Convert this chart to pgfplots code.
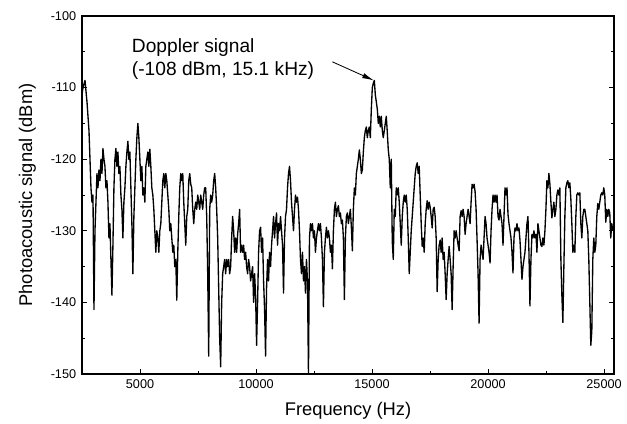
\documentclass[border=0pt]{standalone}
\usepackage{fontspec}
\setmainfont{Liberation Sans}
\usepackage{pgfplots}
\pgfplotsset{compat=1.18}
\usepackage{pgfplotstable}
\usetikzlibrary{arrows.meta}

% photoacoustic spectrum
\pgfplotstableread{
f v
2500 -111
2543 -110
2586 -109.5
2629 -109
2672 -110.5
2715 -112
2758 -114
2801 -116
2844 -120
2887 -124
2930 -126
2973 -125
3016 -141
3059 -130
3102 -126
3145 -122
3188 -124
3231 -121.5
3274 -123
3317 -120
3360 -122
3403 -118.5
3446 -120
3489 -121
3532 -124
3575 -123
3618 -126
3661 -131
3704 -129
3747 -134
3790 -139
3833 -132
3876 -124
3919 -120
3962 -118.5
4005 -121
4048 -119
4091 -122
4134 -121
4177 -125
4220 -127
4263 -131
4306 -126
4349 -124
4392 -121
4435 -119
4478 -117.5
4521 -120
4564 -119
4607 -124
4650 -129
4693 -136
4736 -128
4779 -124
4822 -120
4865 -117
4908 -115
4951 -117
4994 -120
5037 -123
5080 -121
5123 -125
5166 -124
5209 -126
5252 -121
5295 -120
5338 -119
5381 -121
5424 -118.6
5467 -121
5510 -124
5553 -125
5596 -127
5639 -130
5682 -133
5725 -130
5768 -131
5811 -133
5854 -130
5897 -129
5940 -126
5983 -123
6026 -122
6069 -124
6112 -122
6155 -123
6198 -125
6241 -127
6284 -130
6327 -129
6370 -131
6413 -133
6456 -132
6499 -135
6542 -134
6585 -139.7
6628 -133
6671 -128
6714 -124
6757 -122
6800 -123
6843 -122
6886 -126
6929 -129
6972 -132
7015 -128
7058 -127
7101 -123
7144 -122
7187 -123.5
7230 -124
7273 -127
7316 -129
7359 -127
7402 -126
7445 -127
7488 -125
7531 -126
7574 -127
7617 -125
7660 -126
7703 -127
7746 -125
7789 -124
7832 -124
7875 -128
7918 -136
7961 -147.5
8004 -127
8047 -125
8090 -126
8133 -125
8176 -123
8219 -122
8262 -124
8305 -127
8348 -131
8391 -138
8434 -145
8477 -149
8520 -140
8563 -136
8606 -135
8649 -134
8692 -136
8735 -134
8778 -135
8821 -134
8864 -136
8907 -135
8950 -131
8993 -128
9036 -130
9079 -133
9122 -131
9165 -133
9208 -130.5
9251 -129
9294 -127
9337 -133
9380 -132
9423 -133
9466 -132
9509 -134
9552 -133
9595 -135
9638 -136
9681 -134
9724 -135
9767 -137
9810 -136
9853 -135
9896 -140
9939 -136
9982 -139
10025 -146
10068 -140
10111 -133
10154 -130
10197 -129.5
10240 -133
10283 -131
10326 -137
10369 -141
10412 -147.5
10455 -138
10498 -134
10541 -137
10584 -133
10627 -135
10670 -132
10713 -130
10756 -128
10799 -131
10842 -129
10885 -127.5
10928 -132
10971 -129
11014 -130
11057 -128
11100 -130
11143 -132
11186 -138.7
11229 -131
11272 -128
11315 -127
11358 -124
11401 -122
11444 -121
11487 -123
11530 -126
11573 -128
11616 -130
11659 -127
11702 -125
11745 -126
11788 -125.3
11831 -127
11874 -130
11917 -134
11960 -136
12003 -133
12046 -137
12089 -135
12132 -138.7
12175 -134
12218 -137
12261 -150
12304 -131
12347 -129
12390 -130
12433 -129
12476 -131
12519 -130
12562 -133
12605 -131
12648 -130
12691 -129
12734 -130
12777 -129
12820 -131
12863 -134
12906 -140.6
12949 -133
12992 -131
13035 -129.5
13078 -131
13121 -130
13164 -131
13207 -133
13250 -132
13293 -135.3
13336 -130
13379 -127
13422 -126
13465 -128
13508 -127
13551 -126.5
13594 -128
13637 -127.5
13680 -129
13723 -128.5
13766 -131
13809 -139.6
13852 -131
13895 -128
13938 -127.5
13981 -129
14024 -128
14067 -127
14110 -129.5
14153 -132.8
14196 -127
14239 -124
14282 -125
14325 -122
14368 -121
14411 -120
14454 -118.7
14497 -120
14540 -122
14583 -121.5
14626 -119
14669 -117
14712 -116
14755 -115.5
14798 -117
14841 -116
14884 -115.5
14927 -117
14970 -113
15013 -110
15056 -109.4
15099 -109
15142 -111
15185 -112
15228 -113
15271 -115
15314 -114
15357 -115.5
15400 -114
15443 -116
15486 -117
15529 -116
15572 -115
15615 -114
15658 -116.2
15701 -118.7
15744 -120
15787 -124
15830 -120
15873 -131.5
15916 -134
15959 -127
16002 -128
16045 -124
16088 -125
16131 -124
16174 -126
16217 -129
16260 -132
16303 -128
16346 -126
16389 -125
16432 -126
16475 -125
16518 -127
16561 -131
16604 -136
16647 -133
16690 -130
16733 -128
16776 -126
16819 -124
16862 -122
16905 -121
16948 -120.5
16991 -122
17034 -121
17077 -125
17120 -129
17163 -132.2
17206 -131
17249 -133
17292 -129
17335 -127
17378 -125.8
17421 -127
17464 -126
17507 -126.7
17550 -128
17593 -129.6
17636 -127
17679 -126.7
17722 -128
17765 -131
17808 -138.5
17851 -134
17894 -132
17937 -131.3
17980 -133
18023 -131
18066 -134
18109 -133
18152 -136
18195 -139.6
18238 -136
18281 -134
18324 -132.2
18367 -134
18410 -136
18453 -141
18496 -135
18539 -130
18582 -131
18625 -130
18668 -131
18711 -132
18754 -132.8
18797 -128
18840 -127.2
18883 -128
18926 -127
18969 -128
19012 -130.5
19055 -129
19098 -128
19141 -127
19184 -128
19227 -129
19270 -126
19313 -123.5
19356 -124
19399 -123.5
19442 -124.5
19485 -127
19528 -131.3
19571 -136
19614 -142.9
19657 -134
19700 -132
19743 -133
19786 -134
19829 -131
19872 -128
19915 -129
19958 -131
20001 -132
20044 -133
20087 -134.5
20130 -130
20173 -127
20216 -125
20259 -126
20302 -125
20345 -126
20388 -125
20431 -128
20474 -128.5
20517 -127
20560 -128
20603 -129
20646 -132
20689 -128
20732 -124
20775 -125
20818 -124
20861 -127.7
20904 -129
20947 -130
20990 -131
21033 -133
21076 -135.9
21119 -131
21162 -129.6
21205 -130
21248 -129
21291 -130
21334 -129.6
21377 -131.3
21420 -134
21463 -136.8
21506 -135
21549 -134
21592 -133
21635 -131
21678 -129
21721 -128
21764 -133
21807 -140.5
21850 -134
21893 -130.5
21936 -131
21979 -130
22022 -131
22065 -130.5
22108 -133
22151 -129
22194 -130
22237 -131
22280 -132
22323 -132.2
22366 -131
22409 -132
22452 -130
22495 -127
22538 -123
22581 -124
22624 -122
22667 -123.5
22710 -126
22753 -128.2
22796 -127
22839 -126
22882 -128
22925 -127
22968 -125
23011 -124.3
23054 -125
23097 -124
23140 -134
23183 -139
23226 -142.8
23269 -135
23312 -128
23355 -124
23398 -123.3
23441 -123
23484 -124
23527 -123.3
23570 -125.6
23613 -129
23656 -133
23699 -132
23742 -133
23785 -128
23828 -125
23871 -124.7
23914 -125
23957 -124.7
24000 -129
24043 -131
24086 -128
24129 -127
24172 -127
24215 -128
24258 -129
24301 -130
24344 -134
24387 -140
24430 -146
24473 -144
24516 -134
24559 -131
24602 -133
24645 -132
24688 -128
24731 -126.2
24774 -127
24817 -126
24860 -125
24903 -124.7
24946 -125
24989 -124
25032 -125
25075 -128.8
25118 -127
25161 -128
25204 -127
25247 -127.5
25290 -131
25333 -129
25376 -130
}\spectrum

\begin{document}
\begin{tikzpicture}
\begin{axis}[
    scale only axis,
    width=319.2pt, height=214.8pt,
    xmin=2500, xmax=25430,
    ymin=-150, ymax=-100,
    xtick={5000,10000,15000,20000,25000},
    ytick={-150,-140,-130,-120,-110,-100},
    scaled x ticks=false,
    minor x tick num=1, minor y tick num=1,
    tick align=inside,
    xtick pos=left,
    major tick length=3pt, minor tick length=2pt,
    axis line style={line width=0.7pt},
    every tick/.style={black, line width=0.5pt},
    /pgf/number format/assume math mode=true,
    /pgf/number format/1000 sep={},
    ticklabel style={font=\fontsize{7.6}{9}\selectfont},
    label style={font=\fontsize{11}{13}\selectfont},
    xlabel={Frequency (Hz)},
    ylabel={Photoacoustic signal (dBm)},
    xlabel style={yshift=-1pt},
    ylabel style={yshift=2pt},
]
\addplot[black, line width=0.8pt, line join=round] table[x=f, y=v] {\spectrum};
\node[anchor=west, align=left, font=\fontsize{11.5}{13.8}\selectfont]
    at (axis cs:4400,-106) {Doppler signal\\(-108 dBm, 15.1 kHz)};
\draw[-{Latex[length=7pt,width=3.2pt]}, line width=0.5pt]
    (axis cs:13290,-106.4) -- (axis cs:15080,-109.0);
\end{axis}
\pgfresetboundingbox
\path[use as bounding box]
    ([shift={(-49.2pt,-29.4pt)}]current axis.south west)
    rectangle ([shift={(7.8pt,9.6pt)}]current axis.north east);
\end{tikzpicture}
\end{document}
